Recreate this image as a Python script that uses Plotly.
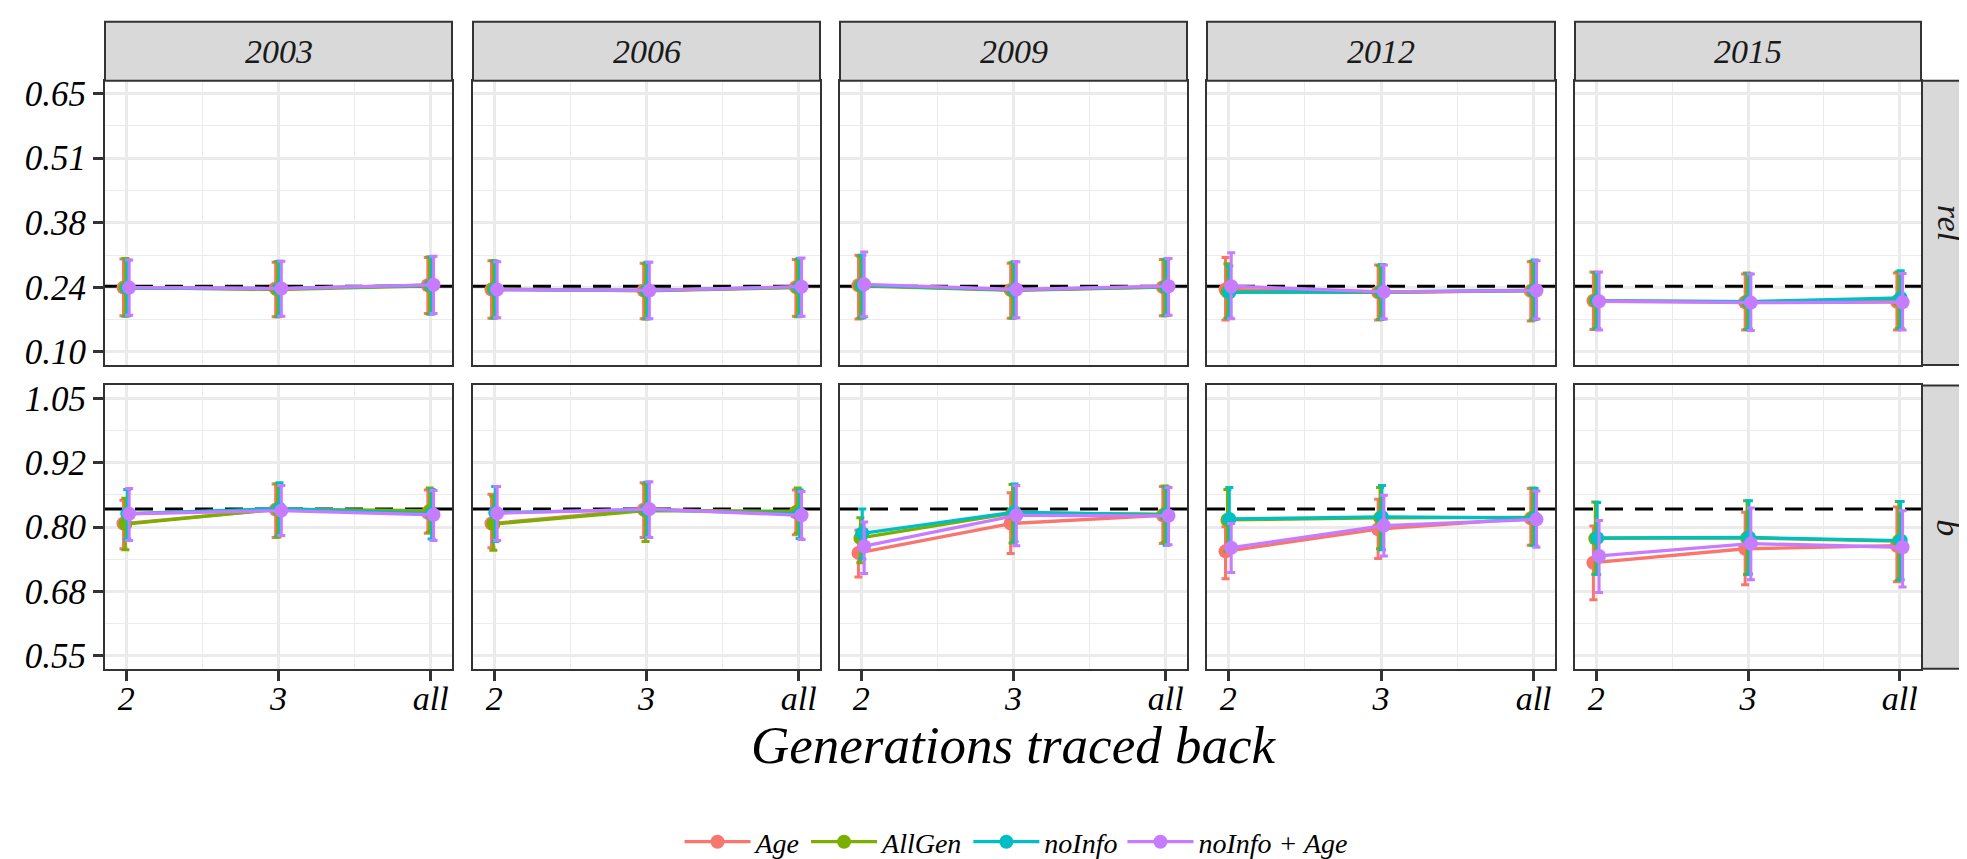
import plotly.graph_objects as go
from plotly.subplots import make_subplots

# ---------------- data ----------------
years = ["2003", "2006", "2009", "2012", "2015"]
generations = ["2", "3", "all"]
params = ["rel", "b"]
series_names = ["Age", "AllGen", "noInfo", "noInfo + Age"]
true_rel = 0.24
true_b = 0.835

# each list: 5 years x 3 generations (year-major)
rel_age_mean = [0.237, 0.235, 0.242, 0.233, 0.231, 0.238, 0.242, 0.232, 0.238, 0.233, 0.227, 0.230, 0.209, 0.206, 0.207]
rel_age_lo   = [0.177, 0.175, 0.182, 0.172, 0.171, 0.176, 0.170, 0.172, 0.177, 0.168, 0.168, 0.166, 0.148, 0.147, 0.147]
rel_age_hi   = [0.298, 0.291, 0.301, 0.294, 0.289, 0.297, 0.306, 0.289, 0.297, 0.301, 0.285, 0.292, 0.270, 0.266, 0.268]

rel_allgen_mean = [0.237, 0.233, 0.241, 0.234, 0.230, 0.237, 0.241, 0.231, 0.238, 0.228, 0.227, 0.231, 0.209, 0.207, 0.210]
rel_allgen_lo   = [0.176, 0.175, 0.181, 0.172, 0.170, 0.175, 0.172, 0.172, 0.177, 0.172, 0.169, 0.168, 0.149, 0.148, 0.150]
rel_allgen_hi   = [0.299, 0.292, 0.302, 0.294, 0.288, 0.297, 0.304, 0.290, 0.297, 0.288, 0.284, 0.293, 0.269, 0.268, 0.271]

rel_noinfo_mean = [0.236, 0.235, 0.242, 0.233, 0.231, 0.238, 0.242, 0.232, 0.239, 0.227, 0.228, 0.231, 0.209, 0.207, 0.215]
rel_noinfo_lo   = [0.177, 0.176, 0.181, 0.173, 0.171, 0.176, 0.173, 0.173, 0.178, 0.173, 0.170, 0.169, 0.150, 0.149, 0.150]
rel_noinfo_hi   = [0.295, 0.293, 0.302, 0.293, 0.291, 0.299, 0.306, 0.292, 0.298, 0.283, 0.286, 0.296, 0.269, 0.266, 0.273]

rel_noinfoage_mean = [0.237, 0.235, 0.243, 0.233, 0.231, 0.239, 0.244, 0.233, 0.240, 0.240, 0.228, 0.231, 0.208, 0.205, 0.206]
rel_noinfoage_lo   = [0.178, 0.176, 0.182, 0.173, 0.171, 0.176, 0.175, 0.173, 0.178, 0.171, 0.170, 0.170, 0.147, 0.146, 0.147]
rel_noinfoage_hi   = [0.296, 0.293, 0.304, 0.292, 0.291, 0.300, 0.313, 0.292, 0.299, 0.311, 0.285, 0.294, 0.270, 0.266, 0.267]

b_age_mean = [0.807, 0.834, 0.828, 0.807, 0.834, 0.829, 0.750, 0.807, 0.823, 0.753, 0.796, 0.817, 0.731, 0.758, 0.764]
b_age_lo   = [0.758, 0.780, 0.788, 0.760, 0.780, 0.785, 0.703, 0.749, 0.768, 0.700, 0.739, 0.765, 0.659, 0.688, 0.694]
b_age_hi   = [0.852, 0.884, 0.872, 0.864, 0.886, 0.872, 0.794, 0.867, 0.879, 0.801, 0.854, 0.875, 0.802, 0.829, 0.839]

b_allgen_mean = [0.806, 0.835, 0.832, 0.806, 0.832, 0.831, 0.779, 0.827, 0.825, 0.814, 0.818, 0.819, 0.778, 0.779, 0.773]
b_allgen_lo   = [0.756, 0.781, 0.790, 0.755, 0.772, 0.788, 0.731, 0.769, 0.770, 0.753, 0.758, 0.765, 0.708, 0.708, 0.697]
b_allgen_hi   = [0.856, 0.884, 0.876, 0.860, 0.884, 0.876, 0.818, 0.883, 0.880, 0.873, 0.877, 0.876, 0.849, 0.851, 0.850]

b_noinfo_mean = [0.826, 0.836, 0.826, 0.828, 0.834, 0.826, 0.788, 0.829, 0.824, 0.816, 0.820, 0.818, 0.779, 0.780, 0.774]
b_noinfo_lo   = [0.777, 0.784, 0.777, 0.772, 0.781, 0.778, 0.738, 0.772, 0.765, 0.756, 0.756, 0.764, 0.708, 0.709, 0.698]
b_noinfo_hi   = [0.873, 0.886, 0.873, 0.879, 0.887, 0.872, 0.835, 0.884, 0.878, 0.877, 0.881, 0.875, 0.848, 0.851, 0.850]

b_noinfoage_mean = [0.826, 0.832, 0.824, 0.827, 0.835, 0.823, 0.763, 0.823, 0.822, 0.760, 0.803, 0.815, 0.744, 0.768, 0.761]
b_noinfoage_lo   = [0.774, 0.784, 0.774, 0.774, 0.780, 0.776, 0.710, 0.764, 0.766, 0.712, 0.744, 0.761, 0.673, 0.698, 0.684]
b_noinfoage_hi   = [0.875, 0.881, 0.871, 0.879, 0.888, 0.869, 0.810, 0.881, 0.877, 0.807, 0.862, 0.870, 0.813, 0.837, 0.832]

rel_ticks = [0.1, 0.2375, 0.375, 0.5125, 0.65]
rel_ticklabels = ["0.10", "0.24", "0.38", "0.51", "0.65"]
b_ticks = [0.55, 0.675, 0.8, 0.925, 1.05]
b_ticklabels = ["0.55", "0.68", "0.80", "0.92", "1.05"]

# ---------------- styling ----------------
colors = ["#F8766D", "#7CAE00", "#00BFC4", "#C77CFF"]
dodge = [-0.01875, -0.00625, 0.00625, 0.01875]
W, H = 1967, 859
FONT = "Liberation Serif"
col_px = [(97, 444), (465, 812), (832, 1179), (1199, 1547), (1567, 1913)]
row_px = [(68, 358), (379, 668)]
strip_top = (8, 68)
strip_right = (1914, 1975)
xrange_ = [0.86, 3.14]

data = {
    "rel": [(rel_age_mean, rel_age_lo, rel_age_hi),
            (rel_allgen_mean, rel_allgen_lo, rel_allgen_hi),
            (rel_noinfo_mean, rel_noinfo_lo, rel_noinfo_hi),
            (rel_noinfoage_mean, rel_noinfoage_lo, rel_noinfoage_hi)],
    "b": [(b_age_mean, b_age_lo, b_age_hi),
          (b_allgen_mean, b_allgen_lo, b_allgen_hi),
          (b_noinfo_mean, b_noinfo_lo, b_noinfo_hi),
          (b_noinfoage_mean, b_noinfoage_lo, b_noinfoage_hi)],
}
true_vals = {"rel": true_rel, "b": true_b}
yranges = {"rel": [0.0725, 0.6775], "b": [0.525, 1.075]}
yticks = {"rel": (rel_ticks, rel_ticklabels), "b": (b_ticks, b_ticklabels)}

fig = make_subplots(rows=2, cols=5)

for r, p in enumerate(params):
    for c, yr in enumerate(years):
        # reference (true) value: dashed horizontal line across the panel
        fig.add_trace(go.Scatter(
            x=xrange_, y=[true_vals[p]] * 2, mode="lines", showlegend=False,
            hoverinfo="skip", line=dict(color="black", width=3, dash="18px,12px"),
        ), row=r + 1, col=c + 1)
        for s, name in enumerate(series_names):
            mean, lo, hi = data[p][s]
            m = mean[c * 3:(c + 1) * 3]
            l = lo[c * 3:(c + 1) * 3]
            h = hi[c * 3:(c + 1) * 3]
            xs = [i + 1 + dodge[s] for i in range(len(generations))]
            fig.add_trace(go.Scatter(
                x=xs, y=m, mode="lines+markers", name=name,
                legendgroup=name, showlegend=(r == 0 and c == 0),
                line=dict(color=colors[s], width=3.3),
                marker=dict(color=colors[s], size=14),
                error_y=dict(type="data", symmetric=False,
                             array=[hh - mm for hh, mm in zip(h, m)],
                             arrayminus=[mm - ll for mm, ll in zip(m, l)],
                             color=colors[s], thickness=3, width=4),
                cliponaxis=False,
            ), row=r + 1, col=c + 1)

layout_upd = {}
shapes = []
annotations = []
for r, p in enumerate(params):
    for c, yr in enumerate(years):
        n = r * 5 + c + 1
        sfx = "" if n == 1 else str(n)
        x0, x1 = col_px[c]
        y0, y1 = row_px[r]
        layout_upd["xaxis" + sfx] = dict(
            domain=[x0 / W, x1 / W], range=xrange_,
            tickmode="array", tickvals=[1, 2, 3], ticktext=generations,
            showticklabels=(r == 1), ticks="outside" if r == 1 else "",
            ticklen=10, tickwidth=2.5, tickcolor="#333333",
            ticklabelstandoff=-12 if r == 1 else 0,
            showgrid=True, gridcolor="#EBEBEB", gridwidth=2.5,
            minor=dict(tick0=1, dtick=0.5, showgrid=True, gridcolor="#EBEBEB", gridwidth=1.3),
            showline=True, mirror=True, linecolor="#333333", linewidth=2,
            zeroline=False, tickfont=dict(size=34, color="black"),
        )
        tv, tt = yticks[p]
        layout_upd["yaxis" + sfx] = dict(
            domain=[1 - y1 / H, 1 - y0 / H], range=yranges[p],
            tickmode="array", tickvals=tv, ticktext=tt,
            showticklabels=(c == 0), ticks="outside" if c == 0 else "",
            ticklen=10, tickwidth=2.5, tickcolor="#333333",
            showgrid=True, gridcolor="#EBEBEB", gridwidth=2.5,
            minor=dict(tick0=tv[0], dtick=(tv[1] - tv[0]) / 2, showgrid=True,
                       gridcolor="#EBEBEB", gridwidth=1.3),
            showline=True, mirror=True, linecolor="#333333", linewidth=2,
            zeroline=False, tickfont=dict(size=35, color="black"),
        )

# top strips
for c, yr in enumerate(years):
    x0, x1 = col_px[c]
    shapes.append(dict(type="rect", xref="paper", yref="paper",
                       x0=x0 / W, x1=x1 / W, y0=1 - strip_top[1] / H, y1=1 - strip_top[0] / H,
                       fillcolor="#D9D9D9", line=dict(color="#333333", width=2), layer="above"))
    annotations.append(dict(text=yr, xref="paper", yref="paper", x=(x0 + x1) / 2 / W,
                            y=1 - (strip_top[0] + strip_top[1]) / 2 / H, showarrow=False,
                            xanchor="center", yanchor="middle",
                            font=dict(size=34, color="#1A1A1A", family=FONT, style="italic")))
# right strips
for r, p in enumerate(params):
    y0, y1 = row_px[r]
    shapes.append(dict(type="rect", xref="paper", yref="paper",
                       x0=strip_right[0] / W, x1=strip_right[1] / W, y0=1 - y1 / H, y1=1 - y0 / H,
                       fillcolor="#D9D9D9", line=dict(color="#333333", width=2), layer="above"))
    annotations.append(dict(text=p, xref="paper", yref="paper", x=1941 / W,
                            y=1 - (y0 + y1) / 2 / H, showarrow=False, textangle=90,
                            xanchor="center", yanchor="middle",
                            font=dict(size=34, color="#1A1A1A", family=FONT, style="italic")))

annotations.append(dict(text="Generations traced back", xref="paper", yref="paper",
                        x=1005 / W, y=1 - 746 / H, showarrow=False, xanchor="center",
                        yanchor="middle", font=dict(size=53, color="black", family=FONT, style="italic")))

fig.update_layout(**layout_upd)
fig.update_layout(
    width=W, height=H, margin=dict(l=0, r=0, t=0, b=0),
    paper_bgcolor="white", plot_bgcolor="white",
    font=dict(family=FONT, style="italic", color="black"),
    shapes=shapes, annotations=annotations,
    legend=dict(orientation="h", x=1008 / W, xanchor="center", y=1 - 845 / H, yanchor="middle",
                font=dict(size=28, family=FONT, style="italic", color="black"),
                itemwidth=66, bgcolor="rgba(0,0,0,0)", traceorder="normal"),
)

fig.write_html("out.html")
